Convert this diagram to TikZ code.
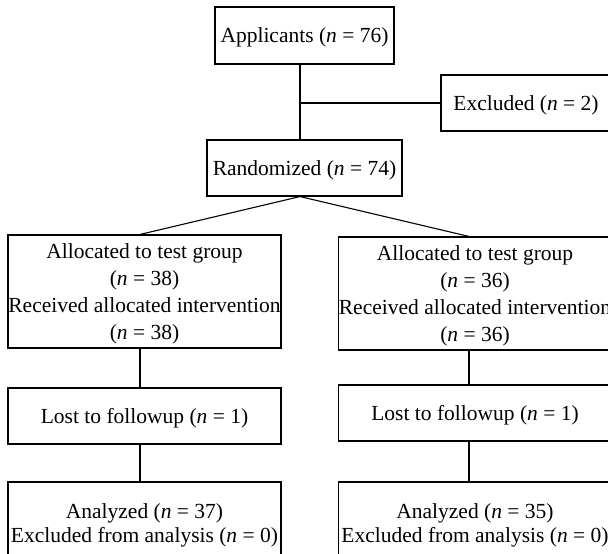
\documentclass[tikz,border=0pt]{standalone}
\usepackage{fontspec}
\setmainfont{Liberation Serif}
\begin{document}
\begin{tikzpicture}[x=1pt,y=-1pt,
  box/.style={draw, line width=1.1pt, inner sep=0pt},
  txt/.style={inner sep=0pt, align=center, font=\fontsize{21.5}{27.2}\selectfont},
  conn/.style={line width=1.1pt}]
\useasboundingbox (0,0) rectangle (608,554);
\clip (0,0) rectangle (608,554);
\node[box, minimum width=179pt, minimum height=57pt] (app) at (304.5,35.5) {};
\node[box, minimum width=170pt, minimum height=56pt] (exc) at (526,103) {};
\node[box, minimum width=195pt, minimum height=56pt] (rand) at (304.5,168) {};
\node[box, minimum width=273pt, minimum height=113pt] (la) at (144.5,291.5) {};
\node[box, minimum width=273pt, minimum height=113pt] (ra) at (475,293.5) {};
\node[box, minimum width=273pt, minimum height=56pt] (ll) at (144.5,416) {};
\node[box, minimum width=273pt, minimum height=56pt] (rl) at (475,413) {};
\node[box, minimum width=273pt, minimum height=82pt] (lan) at (144.5,523) {};
\node[box, minimum width=273pt, minimum height=82pt] (ran) at (475,523) {};
\node[txt] (appt) at ([yshift=-2pt]app.center) {Applicants (\textit{n} = 76)};
\node[txt] (exct) at ([yshift=-2pt]exc.center) {Excluded (\textit{n} = 2)};
\node[txt] (randt) at ([yshift=-2pt]rand.center) {Randomized (\textit{n} = 74)};
\node[txt] (lat) at ([yshift=-2.5pt]la.center) {Allocated to test group\\(\textit{n} = 38)\\Received allocated intervention\\(\textit{n} = 38)};
\node[txt] (rat) at ([yshift=-2.5pt]ra.center) {Allocated to test group\\(\textit{n} = 36)\\Received allocated intervention\\(\textit{n} = 36)};
\node[txt] (llt) at ([yshift=-2.5pt]ll.center) {Lost to followup (\textit{n} = 1)};
\node[txt] (rlt) at ([yshift=-2.5pt]rl.center) {Lost to followup (\textit{n} = 1)};
\node[txt, font=\fontsize{21.5}{23.5}\selectfont] (lant) at ([yshift=-2.5pt]lan.center) {Analyzed (\textit{n} = 37)\\Excluded from analysis (\textit{n} = 0)};
\node[txt, font=\fontsize{21.5}{23.5}\selectfont] (rant) at ([yshift=-2.5pt]ran.center) {Analyzed (\textit{n} = 35)\\Excluded from analysis (\textit{n} = 0)};
\coordinate (trunk) at (300,103);
\coordinate (lc) at (140,0);
\coordinate (rc) at (469,0);
\draw[conn] (app.south -| trunk) -- (rand.north -| trunk);
\draw[conn] (trunk) -- (exc.west);
\draw[conn] (rand.south -| trunk) -- (la.north -| lc);
\draw[conn] (rand.south -| trunk) -- (ra.north -| rc);
\draw[conn] (la.south -| lc) -- (ll.north -| lc);
\draw[conn] (ll.south -| lc) -- (lan.north -| lc);
\draw[conn] (ra.south -| rc) -- (rl.north -| rc);
\draw[conn] (rl.south -| rc) -- (ran.north -| rc);
\end{tikzpicture}
\end{document}
